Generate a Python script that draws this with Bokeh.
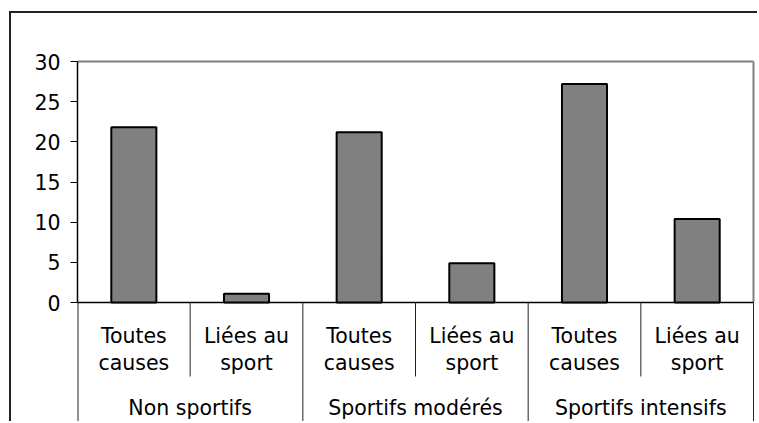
from bokeh.plotting import figure
from bokeh.models import Range1d, FixedTicker, ColumnDataSource
from bokeh.embed import file_html
from bokeh.resources import INLINE
from bokeh.core.properties import value

# ---- data -------------------------------------------------------------
groups = ["Non sportifs", "Sportifs modérés", "Sportifs intensifs"]
sub_line1 = ["Toutes", "Liées au"]
sub_line2 = ["causes", "sport"]
rates = [21.8, 1.1, 21.2, 4.9, 27.2, 10.4]
y_ticks = [0, 5, 10, 15, 20, 25, 30]

# ---- layout (pixels) ---------------------------------------------------
W, H = 757, 421
LEFT, RIGHT_PAD, TOP = 77, 2, 59
FONT = "DejaVu Sans"
FS = "20.5px"

n_sub = len(sub_line1)
n = len(groups) * n_sub
y_max = y_ticks[-1]

frame_w = W - LEFT - RIGHT_PAD
frame_h = H - TOP
sx = (frame_w - 2) / n            # px per x unit
sy = 241.0 / y_max                # px per y unit
x_end = n + 2 / sx
y_end = y_max + 2 / sy
y_start = y_end - frame_h / sy

frame_css = {
    "background-color": "white",
    "background-image": "linear-gradient(#222222, #222222), linear-gradient(#222222, #222222)",
    "background-size": "2px 100%, 100% 2px",
    "background-position": "9px 11px, 9px 11px",
    "background-repeat": "no-repeat",
}

p = figure(width=W, height=H, output_backend="svg", toolbar_location=None,
           x_range=Range1d(0, x_end), y_range=Range1d(y_start, y_end),
           x_axis_location=None,
           min_border_left=LEFT, min_border_right=RIGHT_PAD,
           min_border_top=TOP, min_border_bottom=0,
           background_fill_color="white", border_fill_color=None,
           outline_line_color=None, styles=frame_css)
p.xgrid.visible = False
p.ygrid.visible = False

ax = p.yaxis[0]
ax.ticker = FixedTicker(ticks=y_ticks, minor_ticks=[])
ax.bounds = (0, y_max)
ax.axis_line_color = "black"
ax.axis_line_width = 1.5
ax.major_tick_out = 7
ax.major_tick_in = 0
ax.major_tick_line_color = "black"
ax.major_tick_line_width = 1
ax.minor_tick_line_color = None
ax.major_label_standoff = 10
ax.major_label_text_font = FONT
ax.major_label_text_font_size = FS
ax.major_label_text_color = "black"

# plot-area frame (grey top and right edges)
p.segment(x0=[0, n], y0=[y_max, 0], x1=[n, n], y1=[y_max, y_max],
          line_color="#808080", line_width=2)
# category axis line
p.segment(x0=[0], y0=[0], x1=[n], y1=[0], line_color="black", line_width=1.5)

# bars
xs = [i + 0.5 for i in range(n)]
src = ColumnDataSource(dict(x=xs, top=rates))
p.vbar(x="x", top="top", bottom=0, width=0.4, source=src,
       fill_color="#808080", line_color="black", line_width=2)

# separators below axis
sub_sep = [g * n_sub + k for g in range(len(groups)) for k in range(1, n_sub)]
grp_sep = [g * n_sub for g in range(len(groups) + 1)]
p.segment(x0=sub_sep, y0=[0] * len(sub_sep), x1=sub_sep,
          y1=[-74 / sy] * len(sub_sep), line_color="#222222", line_width=1)
p.segment(x0=grp_sep[1:], y0=[0] * (len(grp_sep) - 1), x1=grp_sep[1:],
          y1=[-125 / sy] * (len(grp_sep) - 1), line_color="#222222", line_width=1)
p.segment(x0=grp_sep[:1], y0=[0], x1=grp_sep[:1], y1=[-125 / sy],
          line_color="#222222", line_width=2)

# category labels
l1 = [sub_line1[i % n_sub] for i in range(n)]
l2 = [sub_line2[i % n_sub] for i in range(n)]
p.text(x=xs, y=[-33 / sy] * n, text=l1, text_align="center",
       text_baseline="alphabetic", text_font=value(FONT),
       text_font_size=FS, text_color="black")
p.text(x=xs, y=[-60 / sy] * n, text=l2, text_align="center",
       text_baseline="alphabetic", text_font=value(FONT),
       text_font_size=FS, text_color="black")
gx = [g * n_sub + n_sub / 2 for g in range(len(groups))]
p.text(x=gx, y=[-105 / sy] * len(groups), text=groups, text_align="center",
       text_baseline="alphabetic", text_font=value(FONT),
       text_font_size=FS, text_color="black")

open("out.html", "w").write(file_html(p, INLINE))
